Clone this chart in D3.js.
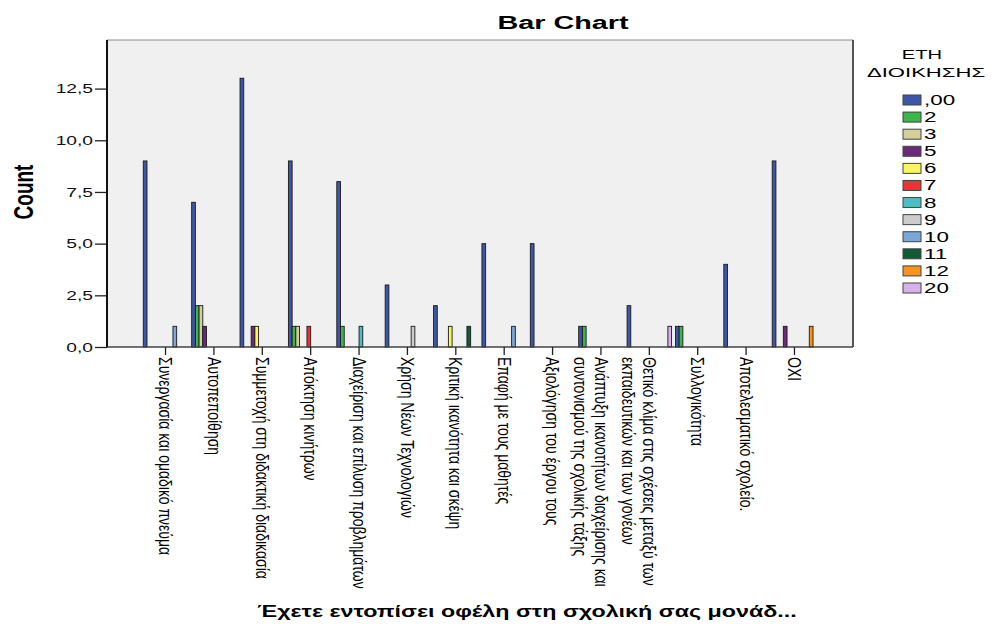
<!DOCTYPE html>
<html>
<head>
<meta charset="utf-8">
<script src="https://cdn.jsdelivr.net/npm/d3@7"></script>
<style>
	body { margin: 0; background: #fff; }
	text { font-family: 'Liberation Sans', Arial, sans-serif; fill: #000; }
</style>
</head>
<body>
<div id="chart"></div>
<script>
const categories = [
	'Συνεργασία και ομαδικό πνεύμα',
	'Αυτοπεποίθηση',
	'Συμμετοχή στη διδακτική διαδικασία',
	'Απόκτηση κινήτρων',
	'Διαχείριση και επίλυση προβλημάτων',
	'Χρήση Νέων Τεχνολογιών',
	'Κριτική ικανότητα και σκέψη',
	'Επαφή με τους μαθητές',
	'Αξιολόγηση του έργου τους',
	'Ανάπτυξη ικανοτήτων διαχείρισης και|συντονισμού της σχολικής τάξης',
	'Θετικό κλίμα στις σχέσεις μεταξύ των|εκπαιδευτικών και των γονέων',
	'Συλλογικότητα',
	'Αποτελεσματικό σχολείο.',
	'ΟΧΙ'
];

// ΕΤΗ ΔΙΟΙΚΗΣΗΣ groups
const seriesKeys = [',00', '2', '3', '5', '6', '7', '8', '9', '10', '11', '12', '20'];

const years00 = [9, 7, 13, 9, 8, 3, 2, 5, 5, 1, 2, 1, 4, 9];
const years2 = [0, 2, 0, 1, 1, 0, 0, 0, 0, 1, 0, 1, 0, 0];
const years3 = [0, 2, 0, 1, 0, 0, 0, 0, 0, 0, 0, 0, 0, 0];
const years5 = [0, 1, 1, 0, 0, 0, 0, 0, 0, 0, 0, 0, 0, 1];
const years6 = [0, 0, 1, 0, 0, 0, 1, 0, 0, 0, 0, 0, 0, 0];
const years7 = [0, 0, 0, 1, 0, 0, 0, 0, 0, 0, 0, 0, 0, 0];
const years8 = [0, 0, 0, 0, 1, 0, 0, 0, 0, 0, 0, 0, 0, 0];
const years9 = [0, 0, 0, 0, 0, 1, 0, 0, 0, 0, 0, 0, 0, 0];
const years10 = [1, 0, 0, 0, 0, 0, 0, 1, 0, 0, 0, 0, 0, 0];
const years11 = [0, 0, 0, 0, 0, 0, 1, 0, 0, 0, 0, 0, 0, 0];
const years12 = [0, 0, 0, 0, 0, 0, 0, 0, 0, 0, 0, 0, 0, 1];
const years20 = [0, 0, 0, 0, 0, 0, 0, 0, 0, 0, 1, 0, 0, 0];

const seriesValues = [years00, years2, years3, years5, years6, years7, years8, years9, years10, years11, years12, years20];

const yTicks = [0, 2.5, 5, 7.5, 10, 12.5];

const seriesColors = ['#3d56a8', '#3db54a', '#d4ce9a', '#6b2a78', '#f8f560', '#ee3237',
	'#4abfc4', '#cccccc', '#7aa7d8', '#125a34', '#f7931e', '#d7b2e8'];

const width = 994;
const height = 625;
const plot = { left: 107, right: 853, top: 40, bottom: 347 };
const stretch = 1.6; // the picture is wider than it is tall, text included

const svg = d3.select('#chart').append('svg').attr('width', width).attr('height', height);

// plot background
svg
	.append('rect')
	.attr('x', plot.left)
	.attr('y', plot.top)
	.attr('width', plot.right - plot.left)
	.attr('height', plot.bottom - plot.top)
	.attr('fill', '#f0f0f0');

const x0 = d3.scaleBand().domain(categories).range([ plot.left, plot.right ]).paddingInner(0.08).paddingOuter(0.75);
const x1 = d3.scaleBand().domain(seriesKeys).range([ 0, x0.bandwidth() ]);
const y = d3.scaleLinear().domain([ 0, 14.85 ]).range([ plot.bottom, plot.top ]);
const color = d3.scaleOrdinal().domain(seriesKeys).range(seriesColors);

const bars = [];
categories.forEach((c, i) => {
	seriesKeys.forEach((k, j) => {
		const v = seriesValues[j][i];
		if (v > 0) bars.push({ cat: c, key: k, value: v });
	});
});

svg
	.append('g')
	.selectAll('rect')
	.data(bars)
	.join('rect')
	.attr('x', (d) => x0(d.cat) + x1(d.key))
	.attr('y', (d) => y(d.value))
	.attr('width', x1.bandwidth())
	.attr('height', (d) => y(0) - y(d.value))
	.attr('fill', (d) => color(d.key))
	.attr('stroke', '#1a1a1a')
	.attr('stroke-width', 0.9);

// frame
svg.append('line').attr('x1', plot.left).attr('x2', plot.right).attr('y1', plot.top).attr('y2', plot.top)
	.style('stroke', '#8a8a8a').style('stroke-width', 1);
svg.append('line').attr('x1', plot.right).attr('x2', plot.right).attr('y1', plot.top).attr('y2', plot.bottom)
	.style('stroke', '#555').style('stroke-width', 2);
svg.append('line').attr('x1', plot.left).attr('x2', plot.right).attr('y1', plot.bottom).attr('y2', plot.bottom)
	.style('stroke', '#444').style('stroke-width', 1.5);

// y axis
const fmt = (d) => d3.format('.1f')(d).replace('.', ',');
const yAxis = svg
	.append('g')
	.attr('transform', `translate(${plot.left},0)`)
	.call(d3.axisLeft(y).tickValues(yTicks).tickSize(12).tickFormat(fmt));
yAxis.select('.domain').remove();
yAxis.selectAll('line').style('stroke', '#222').style('stroke-width', 1.3);
yAxis
	.selectAll('text')
	.attr('x', 0)
	.attr('dy', '0.36em')
	.attr('transform', `translate(-14,0) scale(${stretch},1)`)
	.style('font-size', '12px')
	.style('fill', '#111');
svg.append('line').attr('x1', plot.left).attr('x2', plot.left).attr('y1', plot.top).attr('y2', plot.bottom)
	.style('stroke', '#111').style('stroke-width', 2);

// x axis ticks and rotated labels
const xTick = svg
	.append('g')
	.selectAll('g')
	.data(categories)
	.join('g')
	.attr('transform', (d) => `translate(${x0(d) + x0.bandwidth() / 2},${plot.bottom})`);

xTick.append('line').attr('y2', 8).style('stroke', '#222').style('stroke-width', 1.3);

const xLabel = xTick
	.append('text')
	.attr('transform', `translate(0,10) scale(1.3,1) rotate(90)`)
	.style('font-size', '14px');

xLabel
	.selectAll('tspan')
	.data((d) => d.split('|'))
	.join('tspan')
	.attr('x', 0)
	.attr('dy', (d, i) => (i === 0 ? '0.35em' : '1.15em'))
	.text((d) => d);

// y title
svg
	.append('text')
	.attr('transform', `translate(33,192) scale(1.45,1) rotate(-90)`)
	.attr('text-anchor', 'middle')
	.style('font-size', '19px')
	.style('font-weight', 'bold')
	.text('Count');

// chart title
svg
	.append('text')
	.attr('transform', `translate(563,29) scale(${stretch},1)`)
	.attr('text-anchor', 'middle')
	.style('font-size', '18px')
	.style('font-weight', 'bold')
	.text('Bar Chart');

// x title
svg
	.append('text')
	.attr('transform', `translate(527,617) scale(1.37,1)`)
	.attr('text-anchor', 'middle')
	.style('font-size', '17px')
	.style('font-weight', 'bold')
	.text('Έχετε εντοπίσει οφέλη στη σχολική σας μονάδ...');

// legend
const legendY = d3.scalePoint().domain(seriesKeys).range([ 100, 288 ]);

svg
	.append('text')
	.attr('transform', `translate(922,59) scale(1.55,1)`)
	.attr('text-anchor', 'middle')
	.style('font-size', '13px')
	.text('ΕΤΗ');
svg
	.append('text')
	.attr('transform', `translate(926,77) scale(1.7,1)`)
	.attr('text-anchor', 'middle')
	.style('font-size', '13px')
	.text('ΔΙΟΙΚΗΣΗΣ');

const legendItem = svg
	.append('g')
	.selectAll('g')
	.data(seriesKeys)
	.join('g')
	.attr('transform', (d) => `translate(903,${legendY(d)})`);

legendItem
	.append('rect')
	.attr('y', -5)
	.attr('width', 18)
	.attr('height', 10)
	.attr('fill', (d) => color(d))
	.attr('stroke', '#444')
	.attr('stroke-width', 1);

legendItem
	.append('text')
	.attr('transform', `translate(21,5) scale(${stretch},1)`)
	.style('font-size', '14px')
	.text((d) => d);
</script>
</body>
</html>
